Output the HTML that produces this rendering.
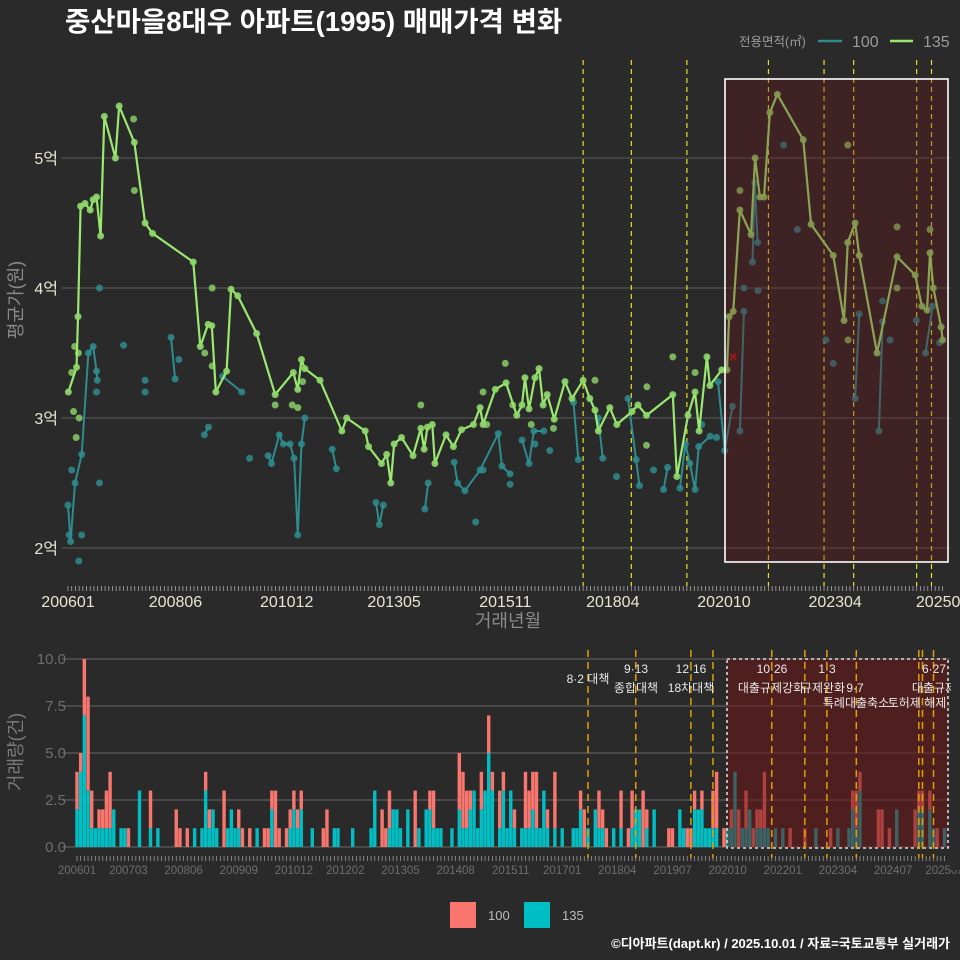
<!DOCTYPE html>
<html><head><meta charset="utf-8">
<style>
html,body{margin:0;padding:0;background:#2a2a2b;}
svg{display:block;font-family:"Liberation Sans","Noto Sans CJK KR",sans-serif;}
</style></head>
<body>
<svg id="chart" width="960" height="960" viewBox="0 0 960 960" xmlns="http://www.w3.org/2000/svg">
<rect x="0" y="0" width="960" height="960" fill="#2a2a2b"/>
<text x="65" y="31" fill="#ffffff" font-size="27.5" font-weight="bold">중산마을8대우 아파트(1995) 매매가격 변화</text>
<g>
<text x="739" y="46" fill="#9a9a9a" font-size="12.5">전용면적(㎡)</text>
<line x1="818" y1="41" x2="842" y2="41" stroke="#2e8c8e" stroke-width="2.5"/>
<text x="852" y="47" fill="#9a9a9a" font-size="16">100</text>
<line x1="890" y1="41" x2="913" y2="41" stroke="#9ae870" stroke-width="2.5"/>
<text x="923" y="47" fill="#9a9a9a" font-size="16">135</text>
</g>
<g id="topPanel"></g>
<g id="bottomPanel"></g>
<g>
<rect x="450" y="902" width="26" height="26" fill="#F8766D"/>
<text x="488" y="920" fill="#bbbbbb" font-size="13">100</text>
<rect x="524" y="902" width="26" height="26" fill="#00BFC4"/>
<text x="562" y="920" fill="#bbbbbb" font-size="13">135</text>
</g>
<text x="950" y="948" fill="#ffffff" font-size="13" font-weight="bold" text-anchor="end">©디아파트(dapt.kr) / 2025.10.01 / 자료=국토교통부 실거래가</text>
</svg>
<script>
// ---- data (month index: 0 = 2006-01) ----
const topTickMonths = [0,29,59,88,118,147,177,207,236];
const topTickLabels = ["200601","200806","201012","201305","201511","201804","202010","202304","202509"];
const priceTicks = [2,3,4,5];
const priceTickLabels = ["2억","3억","4억","5억"];
const policyMonthsTop = [139,152,167,189,204,212,229,233];
const line135Months = [0.1,2.3,2.7,3.4,4.6,6,6.8,7.7,8.8,9.8,12.8,13.8,17.9,20.8,22.8,33.8,35.7,37.8,38.8,39.9,42.8,44,45.8,50.9,55.9,60.8,62,63,63.9,68,73.9,75.2,80.2,81.1,84.6,86,87.1,88,90,93.1,95.2,96.1,97,98.3,99,102,104,106.2,109.4,111.2,112,115.3,118.2,121.1,122.5,123.3,124.4,126,127.1,128.2,129.3,131.2,134.1,136,139,140.8,142.2,143.1,146.2,148.1,152.2,153.8,156.1,163.2,164.3,167.3,169.2,170.3,172.4,173.2,176.4,177.8,178.4,179.5,181.3,184.3,185.4,186.7,187.8,189.4,191.4,198.4,200.5,206.5,209.4,210.4,212.4,213.5,218.3,223.7,228.6,230.4,231.8,232.6,233.5,235.6,236];
const line135Prices = [3.2,3.39,3.78,4.63,4.65,4.6,4.68,4.7,4.4,5.32,5.0,5.4,5.12,4.5,4.42,4.2,3.55,3.72,3.71,3.2,3.36,3.99,3.94,3.65,3.18,3.35,3.22,3.45,3.38,3.29,2.9,3.0,2.9,2.78,2.65,2.72,2.5,2.8,2.85,2.71,2.92,2.76,2.93,2.95,2.65,2.87,2.78,2.91,2.95,3.08,2.95,3.22,3.27,3.02,3.1,3.31,3.07,3.31,3.38,3.1,3.18,2.99,3.28,3.15,3.29,3.15,3.06,2.9,3.08,2.95,3.05,3.1,3.02,3.18,2.55,3.02,3.2,2.9,3.47,3.25,3.37,3.37,3.78,3.82,4.6,4.41,5.0,4.7,4.7,5.35,5.49,5.14,4.49,4.25,3.75,4.35,4.5,4.25,3.5,4.24,4.1,3.86,3.83,4.27,4.0,3.7,3.6];
const extra135Months = [17.7,17.9,38.9,1.5,2.2,3.0,2.8,36.9,38.9,63.3,60.5,62,55.9,95.2,163.2,210.4,181.3,223.7,232.6,223.7,210.5,156.1,142.2,169.2,156.2,112,113,118,120,131,125,1.0,1.8];
const extra135Prices = [5.3,4.75,4.0,3.05,2.85,3.0,3.5,3.5,3.4,3.28,3.1,3.08,3.1,3.1,3.47,5.1,4.75,4.47,4.45,4.0,3.6,2.79,3.29,3.35,3.24,3.2,2.95,3.42,3.1,2.92,2.95,3.35,3.55];
const seg100Months = [
 [0,0.7,1.9,3.7,5.5,6.8,7.7,7.9],[27.8,28.9],[36.8,37.9],[41.7,46.9],
 [54,54.9,57,58.1,59.9,61,62,63,63.9],[71.3,72.4],[83.1,84,85.1],[96.3,97.2],
 [104.2,105.1,107.1,111.2,116.1,117.1,119.3],[122.5,124.4,125.7,128.4],[136.4,137.7],[143.1,144.3],
 [151.1,153.3,154.2],[160.7,161.8],[165.1,166.6,167.8,169.2,170.2,173.3],[175.4,177.2,179.3],
 [181.3,182.4],[184.7,185.3,186.1],[212.4,213.5],[218.8,219.8],[231.4,233.3]];
const seg100Prices = [
 [2.33,2.05,2.5,2.72,3.5,3.55,3.36,3.29],[3.62,3.3],[2.87,2.93],[3.32,3.2],
 [2.71,2.65,2.87,2.8,2.8,2.69,2.1,2.8,3.0],[2.76,2.61],[2.35,2.18,2.33],[2.3,2.5],
 [2.66,2.5,2.44,2.6,2.88,2.63,2.57],[2.83,2.65,2.9,2.9],[3.12,2.68],[3.0,2.69],
 [3.15,2.68,2.48],[2.45,2.62],[2.46,2.8,2.65,2.45,2.78,2.86],[3.28,2.75,3.09],
 [2.9,3.82],[4.2,4.81,4.35],[3.15,3.8],[2.9,3.74],[3.5,3.86]];
const extra100Months = [8.5,15,20.8,20.8,29.9,8.5,2.9,3.7,49,7.7,193.1,196.8,182.4,186.2,204.5,206.5,219.8,221.8,228.9,235.2,119.3,148,1.0,0.3,110,112,126,130,158,171,175];
const extra100Prices = [4.0,3.56,3.29,3.2,3.45,2.5,1.9,2.1,2.69,3.2,5.1,4.45,4.0,3.98,3.6,3.42,3.9,3.6,3.75,3.58,2.49,2.55,2.6,2.1,2.2,2.6,2.8,2.75,2.6,2.95,2.85];
const markMonth = [179.5];
const markPrice = [3.47];
const vol100Months = [0,1,2,3,4,6,7,8,9,14,20,27,28,30,35,36,40,44,45,47,51,52,53,54,55,57,58,59,60,61,67,68,83,84,85,92,96,97,104,105,106,107,110,112,113,115,116,119,122,123,124,125,128,130,137,138,142,143,144,148,150,151,154,155,161,162,166,167,168,170,173,174,176,178,180,182,184,185,186,187,194,198,205,211,212,213,218,219,221,228,229,230,232,234];
const vol100Values = [2,1,3,5,2,1,1,2,3,1,2,2,1,1,1,1,3,1,1,1,1,1,1,3,1,1,1,1,1,1,1,2,2,1,2,3,1,2,3,3,2,1,2,2,1,2,1,1,3,2,2,3,1,3,1,2,2,1,1,2,1,2,3,1,1,1,1,1,1,1,2,3,1,1,2,2,1,1,1,3,1,1,1,1,2,1,2,2,1,2,1,1,1,1];
const vol135Months = [0,1,2,3,4,5,6,7,8,9,10,12,13,17,20,22,32,34,35,36,37,38,41,42,43,44,49,53,58,59,60,61,64,70,71,75,80,81,85,86,87,88,90,93,95,96,97,98,99,102,104,105,106,107,108,109,110,111,112,113,115,116,117,118,119,121,122,123,124,125,126,127,128,130,132,135,136,137,139,141,142,143,146,148,151,152,153,155,157,164,165,168,169,170,171,172,173,174,177,178,179,181,182,183,185,186,187,188,190,192,201,207,210,211,212,213,223,229,230,232,233,236];
const vol135Values = [2,4,7,3,1,1,1,1,1,1,2,1,1,3,1,1,1,1,3,1,2,1,1,2,1,1,1,2,1,2,1,2,1,1,1,1,1,3,1,2,2,1,2,1,2,2,1,1,1,1,2,1,1,2,3,1,2,3,5,3,1,3,1,3,1,1,1,1,2,1,1,3,1,1,1,1,1,2,1,2,1,1,1,1,1,2,2,1,2,2,1,2,2,2,1,1,1,1,1,1,4,1,1,2,1,1,1,1,1,1,1,1,1,2,1,3,2,2,2,2,1,1];
const volTicks = [0,2.5,5,7.5,10];
const volTickLabels = ["0.0","2.5","5.0","7.5","10.0"];
const botTickMonths = [0,14,29,44,59,73,88,103,118,132,147,162,177,192,207,222,236];
const botTickLabels = ["200601","200703","200806","200909","201012","201202","201305","201408","201511","201701","201804","201907","202010","202201","202304","202407","202509"];
const policyMonthsBot = [139,152,167,173,189,198,204,212,229,230,233];

const NS = "http://www.w3.org/2000/svg";
const xTop = m => 68 + m * 3.706;
const yTop = p => 548 - (p - 2) * 130;
const xBot = m => 77 + m * 3.676;
const yBot = v => 847 - v * 18.8;
function mk(tag, attrs, parent) {
  const el = document.createElementNS(NS, tag);
  for (const k in attrs) el.setAttribute(k, attrs[k]);
  parent.appendChild(el);
  return el;
}
const topG = document.getElementById("topPanel");
const botG = document.getElementById("bottomPanel");

priceTicks.forEach((p, i) => {
  const g = mk("line", {x1: 62, x2: 950, y1: yTop(p), y2: yTop(p), stroke: "#5c5c5c", "stroke-width": 1}, topG);
  
  
  const t = mk("text", {x: 58, y: yTop(p) + 6, fill: "#e6e6d2", "font-size": 16, "text-anchor": "end"}, topG);
  t.textContent = priceTickLabels[i];
  
  
});
for (let m = 0; m <= 236; m++) {
  const tk = mk("line", {x1: xTop(m), x2: xTop(m), y1: 586, y2: 591, stroke: "#aaaaaa", "stroke-width": 0.8}, topG);
  
  
}
topTickMonths.forEach((m, i) => {
  const t = mk("text", {x: xTop(m), y: 607, fill: "#e6e6d2", "font-size": 16, "text-anchor": "middle"}, topG);
  t.textContent = topTickLabels[i];
  
  
});
{
  const t = mk("text", {x: 508, y: 627, fill: "#8a8a8a", "font-size": 18, "text-anchor": "middle"}, topG);
  t.textContent = "거래년월";
  
  
  const t2 = mk("text", {x: 0, y: 0, fill: "#8a8a8a", "font-size": 18, "text-anchor": "middle", transform: "translate(22,300) rotate(-90)"}, topG);
  t2.textContent = "평균가(원)";
  
  
}
policyMonthsTop.forEach(m => {
  const l = mk("line", {x1: xTop(m), x2: xTop(m), y1: 60, y2: 586, stroke: "#e8e020", "stroke-width": 1.2, "stroke-dasharray": "5,4"}, topG);
  
  
});
seg100Months.forEach((ms, s) => {
  const pts = ms.map((m, i) => xTop(m) + "," + yTop(seg100Prices[s][i])).join(" ");
  const pl = mk("polyline", {points: pts, fill: "none", stroke: "#2e8c8e", "stroke-width": 2}, topG);
  
  
  ms.forEach((m, i) => {
    const c = mk("circle", {cx: xTop(m), cy: yTop(seg100Prices[s][i]), r: 3.5, fill: "#2e8c8e", opacity: 0.85}, topG);
    
    
  });
});
extra100Months.forEach((m, i) => {
  const c = mk("circle", {cx: xTop(m), cy: yTop(extra100Prices[i]), r: 3.5, fill: "#2e8c8e", opacity: 0.85}, topG);
  
  
});
extra135Months.forEach((m, i) => {
  const c = mk("circle", {cx: xTop(m), cy: yTop(extra135Prices[i]), r: 3.5, fill: "#88cc66", opacity: 0.85}, topG);
  
  
});
{
  const pts = line135Months.map((m, i) => xTop(m) + "," + yTop(line135Prices[i])).join(" ");
  const pl = mk("polyline", {points: pts, fill: "none", stroke: "#9ae870", "stroke-width": 2.2, "stroke-linejoin": "round"}, topG);
  
  
  line135Months.forEach((m, i) => {
    const c = mk("circle", {cx: xTop(m), cy: yTop(line135Prices[i]), r: 3.5, fill: "#8ed86a", opacity: 0.9}, topG);
    
    
  });
}
markMonth.forEach((m, i) => {
  const x = xTop(m), y = yTop(markPrice[i]);
  const p = mk("path", {d: `M${x-3},${y-3}L${x+3},${y+3}M${x-3},${y+3}L${x+3},${y-3}`, stroke: "#e01010", "stroke-width": 1.5}, topG);
  
  
});
{
  const b = mk("rect", {x: 725, y: 79, width: 223, height: 483, fill: "rgba(110,20,22,0.32)", stroke: "#ffffff", "stroke-width": 1.6}, topG);
  
  
}

volTicks.forEach((v, i) => {
  const g = mk("line", {x1: 62, x2: 950, y1: yBot(v), y2: yBot(v), stroke: "#5c5c5c", "stroke-width": 1.3}, botG);
  
  
  const t = mk("text", {x: 66, y: yBot(v) + 5, fill: "#6e6e6e", "font-size": 15, "text-anchor": "end"}, botG);
  t.textContent = volTickLabels[i];
  
  
});
{
  const t2 = mk("text", {x: 0, y: 0, fill: "#7a7a7a", "font-size": 18, "text-anchor": "middle", transform: "translate(22,752) rotate(-90)"}, botG);
  t2.textContent = "거래량(건)";
  
  
}
const v135 = {};
vol135Months.forEach((m, i) => { v135[m] = vol135Values[i]; });
vol135Months.forEach((m, i) => {
  const r = mk("rect", {x: xBot(m) - 1.7, y: yBot(vol135Values[i]), width: 3.4, height: vol135Values[i] * 18.8, fill: "#00BFC4"}, botG);
  
  
});
vol100Months.forEach((m, i) => {
  const base = v135[m] || 0;
  const r = mk("rect", {x: xBot(m) - 1.7, y: yBot(base + vol100Values[i]), width: 3.4, height: vol100Values[i] * 18.8, fill: "#F8766D"}, botG);
  
  
});
for (let m = 0; m <= 236; m++) {
  const tk = mk("line", {x1: xBot(m), x2: xBot(m), y1: 856, y2: 861, stroke: "#999999", "stroke-width": 0.8}, botG);
  
  
}
botTickMonths.forEach((m, i) => {
  const t = mk("text", {x: xBot(m), y: 874, fill: "#6e6e6e", "font-size": 11.5, "text-anchor": "middle"}, botG);
  t.textContent = botTickLabels[i];
  
  
});
{
  const b = mk("rect", {x: 727, y: 659, width: 221, height: 189, fill: "rgba(110,22,22,0.55)", stroke: "#d8d8d8", "stroke-width": 1.6, "stroke-dasharray": "3,3"}, botG);
  
  
}
policyMonthsBot.forEach(m => {
  const l = mk("line", {x1: xBot(m), x2: xBot(m), y1: 650, y2: 858, stroke: "#e0a000", "stroke-width": 1.5, "stroke-dasharray": "7,5"}, botG);
  
  
});
const notes = [
  [588, 683, "8·2 대책"], [636, 673, "9·13"], [636, 692, "종합대책"],
  [691, 673, "12·16"], [691, 692, "18차대책"], [772, 673, "10·26"],
  [771, 692, "대출규제강화"], [827, 673, "1·3"], [823, 692, "규제완화"],
  [855, 692, "9·7"], [856, 707, "특례대출축소"], [917, 707, "토허제 해제"],
  [934, 673, "6·27"], [934, 692, "대출규제"]
];
notes.forEach(n => {
  const t = mk("text", {x: n[0], y: n[1], fill: "#e8e8e8", "font-size": 12, "text-anchor": "middle"}, botG);
  t.textContent = n[2];
  
  
});
{
  const c = mk("rect", {x: 951, y: 640, width: 9, height: 230, fill: "#2a2a2b"}, botG);
  
  
}
</script>
</body></html>
